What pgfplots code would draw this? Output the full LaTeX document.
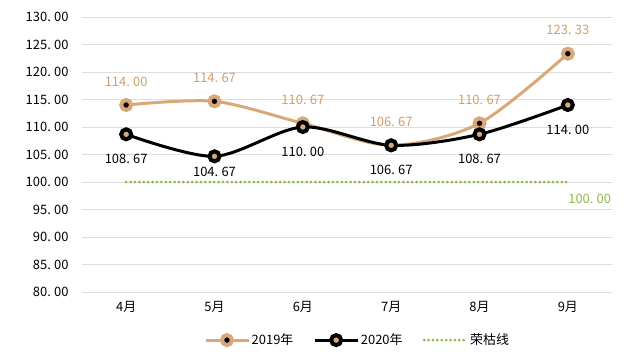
\documentclass[border=0pt]{standalone}
\usepackage{fontspec}
\setmainfont{Noto Sans CJK SC}
\usepackage{pgfplots}
\pgfplotsset{compat=1.18}
\definecolor{tanl}{RGB}{217,168,120}
\definecolor{tant}{RGB}{208,158,108}
\definecolor{grn}{RGB}{140,186,70}
\definecolor{gridc}{RGB}{222,222,222}
\pgfkeys{/pgf/number format/.cd, fixed, fixed zerofill, precision=2, assume math mode=true, 1000 sep={}, dec sep={.\hspace{0.25em}}}
\tikzset{grndots/.style={grn, line width=3bp, line cap=round, dash pattern=on 0bp off 4.4bp}}
\begin{document}
\begin{tikzpicture}
\useasboundingbox (0,0) rectangle (636bp,362bp);
\begin{axis}[
  at={(82bp,70bp)}, anchor=south west, scale only axis,
  width=530bp, height=275bp,
  xmin=-0.5, xmax=5.5, ymin=80, ymax=130,
  ytick={80,85,...,130}, xtick={0,...,5},
  xticklabels={4月,5月,6月,7月,8月,9月},
  axis line style={draw=none}, tick style={draw=none},
  ymajorgrids, grid style={gridc, line width=0.8bp},
  font=\fontsize{13}{15}\selectfont,
  yticklabel style={xshift=-10bp},
  xticklabel style={yshift=-6bp},
  legend columns=3,
  legend style={draw=none, at={(0.52,-0.175)}, anchor=center, font=\fontsize{13}{15}\selectfont,
    /tikz/every even column/.append style={column sep=18bp}},
  legend image code/.code={\draw[mark repeat=2,mark phase=2] plot coordinates {(0cm,0cm) (0.75cm,0cm) (1.5cm,0cm)};},
  clip=false,
]
\addplot[grndots, forget plot] coordinates {(0,100) (5,100)};
\addplot[tanl, line width=3bp, smooth, mark=*, mark size=5bp,
  mark options={draw=tanl, fill=black, line width=4bp, solid},
  nodes near coords, point meta=y,
  every node near coord/.append style={tant, anchor=center, yshift=23.5bp, font=\fontsize{13}{15}\selectfont}]
  coordinates {(0,114.00) (1,114.67) (2,110.67) (3,106.67) (4,110.67) (5,123.33)};
\addlegendentry{2019年}
\addplot[black, line width=3bp, smooth, mark=*, mark size=5bp,
  mark options={draw=black, fill=tanl, line width=4bp, solid}]
  coordinates {(0,108.67) (1,104.67) (2,110.00) (3,106.67) (4,108.67) (5,114.00)};
\addlegendentry{2020年}
\addlegendimage{grndots}
\addlegendentry{荣枯线}
% labels for 2020
\addplot[draw=none, no markers, forget plot, nodes near coords, point meta=y,
  every node near coord/.append style={black, anchor=center, yshift=-24.5bp, font=\fontsize{13}{15}\selectfont}]
  coordinates {(0,108.67) (2,110.00) (3,106.67) (4,108.67) (5,114.00)};
\addplot[draw=none, no markers, forget plot, nodes near coords, point meta=y,
  every node near coord/.append style={black, anchor=center, yshift=-16bp, font=\fontsize{13}{15}\selectfont}]
  coordinates {(1,104.67)};
\addplot[draw=none, no markers, forget plot, nodes near coords, point meta=y,
  every node near coord/.append style={grn, anchor=west, xshift=-3bp, yshift=-17bp, font=\fontsize{13}{15}\selectfont}]
  coordinates {(5,100.00)};
\end{axis}
\end{tikzpicture}
\end{document}
